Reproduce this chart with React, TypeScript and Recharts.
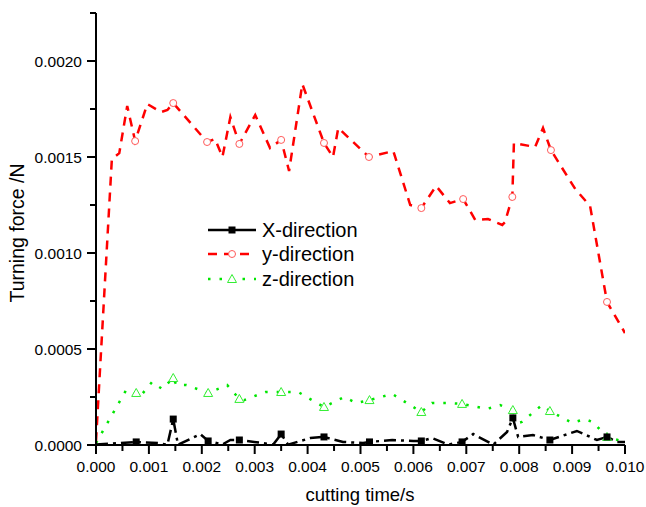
import type { JSX } from "react";
import { LineChart, Line, XAxis, YAxis, Customized } from "recharts";

type Pt = { t: number; v: number; mark?: boolean };

// cutting time (s) vs turning force (N)
const xDirection: Pt[] = [
  { t: 0, v: 0.000002 },
  { t: 0.00076, v: 0.000016, mark: true },
  { t: 0.00118, v: 0.00001 },
  { t: 0.00135, v: 0.000001 },
  { t: 0.00146, v: 0.000135, mark: true },
  { t: 0.00155, v: 0.000001 },
  { t: 0.00197, v: 0.000057 },
  { t: 0.00212, v: 0.000021, mark: true },
  { t: 0.00239, v: 0.000003 },
  { t: 0.00254, v: 0.000026 },
  { t: 0.00271, v: 0.000026, mark: true },
  { t: 0.00316, v: 0.00001 },
  { t: 0.00335, v: 0.000002 },
  { t: 0.0035, v: 0.000057, mark: true },
  { t: 0.00363, v: 0.000002 },
  { t: 0.00405, v: 0.000036 },
  { t: 0.00431, v: 0.000042, mark: true },
  { t: 0.00467, v: 0.000016 },
  { t: 0.00505, v: 0.00001 },
  { t: 0.00517, v: 0.000016, mark: true },
  { t: 0.0056, v: 0.000026 },
  { t: 0.006, v: 0.000021 },
  { t: 0.00615, v: 0.000021, mark: true },
  { t: 0.00635, v: 0.000036 },
  { t: 0.00666, v: 0.000002 },
  { t: 0.00692, v: 0.000016, mark: true },
  { t: 0.00713, v: 0.000057 },
  { t: 0.00751, v: 0.000002 },
  { t: 0.00777, v: 0.000068 },
  { t: 0.00788, v: 0.000141, mark: true },
  { t: 0.00798, v: 0.000042 },
  { t: 0.00826, v: 0.000052 },
  { t: 0.00858, v: 0.000026, mark: true },
  { t: 0.00909, v: 0.000073 },
  { t: 0.00947, v: 0.000026 },
  { t: 0.00966, v: 0.000042, mark: true },
  { t: 0.00985, v: 0.000016 },
  { t: 0.01, v: 0.000016 },
];

const yDirection: Pt[] = [
  { t: 0, v: 0.00002 },
  { t: 0.0003, v: 0.00149 },
  { t: 0.00044, v: 0.00152 },
  { t: 0.00059, v: 0.001766 },
  { t: 0.00074, v: 0.001583, mark: true },
  { t: 0.00097, v: 0.001776 },
  { t: 0.00123, v: 0.001734 },
  { t: 0.00135, v: 0.001745 },
  { t: 0.00146, v: 0.001781, mark: true },
  { t: 0.0021, v: 0.001578, mark: true },
  { t: 0.00225, v: 0.001594 },
  { t: 0.00239, v: 0.0015 },
  { t: 0.00254, v: 0.001708 },
  { t: 0.00271, v: 0.001568, mark: true },
  { t: 0.00301, v: 0.001719 },
  { t: 0.00329, v: 0.001547 },
  { t: 0.0035, v: 0.001589, mark: true },
  { t: 0.00365, v: 0.001427 },
  { t: 0.0039, v: 0.00188 },
  { t: 0.00431, v: 0.001573, mark: true },
  { t: 0.00448, v: 0.0015 },
  { t: 0.00458, v: 0.001651 },
  { t: 0.00516, v: 0.0015, mark: true },
  { t: 0.00562, v: 0.001531 },
  { t: 0.00594, v: 0.00125 },
  { t: 0.00615, v: 0.001234, mark: true },
  { t: 0.00643, v: 0.001349 },
  { t: 0.00669, v: 0.00126 },
  { t: 0.00694, v: 0.001281, mark: true },
  { t: 0.00717, v: 0.001172 },
  { t: 0.00741, v: 0.001177 },
  { t: 0.00768, v: 0.001146 },
  { t: 0.00773, v: 0.00116 },
  { t: 0.00787, v: 0.001292, mark: true },
  { t: 0.0079, v: 0.001573 },
  { t: 0.0083, v: 0.001552 },
  { t: 0.00845, v: 0.001651 },
  { t: 0.0086, v: 0.001536, mark: true },
  { t: 0.00906, v: 0.001333 },
  { t: 0.00934, v: 0.001245 },
  { t: 0.00966, v: 0.000745, mark: true },
  { t: 0.01, v: 0.000583 },
];

const zDirection: Pt[] = [
  { t: 0, v: 0.00001 },
  { t: 0.00057, v: 0.000286 },
  { t: 0.00076, v: 0.000271, mark: true },
  { t: 0.00084, v: 0.000255 },
  { t: 0.00106, v: 0.000328 },
  { t: 0.00125, v: 0.000292 },
  { t: 0.00146, v: 0.000349, mark: true },
  { t: 0.00152, v: 0.000312 },
  { t: 0.00171, v: 0.000312 },
  { t: 0.00212, v: 0.000271, mark: true },
  { t: 0.00248, v: 0.000312 },
  { t: 0.00271, v: 0.00024, mark: true },
  { t: 0.0028, v: 0.000234 },
  { t: 0.0032, v: 0.000276 },
  { t: 0.0035, v: 0.000276, mark: true },
  { t: 0.00382, v: 0.000276 },
  { t: 0.00431, v: 0.000198, mark: true },
  { t: 0.00469, v: 0.00025 },
  { t: 0.00492, v: 0.000219 },
  { t: 0.00517, v: 0.000234, mark: true },
  { t: 0.0056, v: 0.000266 },
  { t: 0.00615, v: 0.000172, mark: true },
  { t: 0.00635, v: 0.000219 },
  { t: 0.00664, v: 0.000219 },
  { t: 0.00692, v: 0.000214, mark: true },
  { t: 0.00739, v: 0.000188 },
  { t: 0.00764, v: 0.000208 },
  { t: 0.00788, v: 0.000182, mark: true },
  { t: 0.0079, v: 0.000109 },
  { t: 0.00805, v: 0.00012 },
  { t: 0.00843, v: 0.000208 },
  { t: 0.00858, v: 0.000177, mark: true },
  { t: 0.009, v: 0.000115 },
  { t: 0.00924, v: 0.000135 },
  { t: 0.00939, v: 0.00012 },
  { t: 0.00966, v: 0.000042, mark: true },
  { t: 0.01, v: 0.000016 },
];

const xTicks = [
  0, 0.0005, 0.001, 0.0015, 0.002, 0.0025, 0.003, 0.0035, 0.004, 0.0045,
  0.005, 0.0055, 0.006, 0.0065, 0.007, 0.0075, 0.008, 0.0085, 0.009, 0.0095,
  0.01,
];
const yTicks = [
  0, 0.00025, 0.0005, 0.00075, 0.001, 0.00125, 0.0015, 0.00175, 0.002,
  0.00225,
];

const seriesNames = ["X-direction", "y-direction", "z-direction"];

const FONT = "'Liberation Sans', Arial, sans-serif";

const square = (cx: number, cy: number, key?: string | number) => (
  <rect key={key} x={cx - 3.5} y={cy - 3.5} width={7} height={7} fill="#000" />
);
const circle = (cx: number, cy: number, key?: string | number) => (
  <circle key={key} cx={cx} cy={cy} r={3.5} fill="#fff" stroke="#ff5a5a" strokeWidth={1} />
);
const triangle = (cx: number, cy: number, key?: string | number) => (
  <path
    key={key}
    d={`M${cx},${cy - 4.5} L${cx + 4.5},${cy + 3.5} L${cx - 4.5},${cy + 3.5} Z`}
    fill="#fff"
    stroke="#33ee33"
    strokeWidth={1}
  />
);

const markerDot =
  (draw: (cx: number, cy: number, key?: string | number) => JSX.Element) =>
  (props: any) => {
    const { cx, cy, payload, index } = props;
    if (!payload?.mark) return <g key={`d-${index}`} />;
    return draw(cx, cy, `d-${index}`);
  };

const XTick = (props: any) => {
  const { x, y, payload } = props;
  const major = Math.round(payload.value / 0.0005) % 2 === 0;
  return (
    <g>
      <line x1={x} x2={x} y1={y} y2={y + (major ? 9 : 6)} stroke="#000" strokeWidth={2} />
      {major && (
        <text x={x} y={y + 27} textAnchor="middle" fontSize={15.5} fontFamily={FONT} fill="#000">
          {payload.value.toFixed(3)}
        </text>
      )}
    </g>
  );
};

const YTick = (props: any) => {
  const { x, y, payload } = props;
  const major = Math.round(payload.value / 0.00025) % 2 === 0;
  return (
    <g>
      <line x1={x - (major ? 9 : 6)} x2={x} y1={y} y2={y} stroke="#000" strokeWidth={2} />
      {major && (
        <text x={x - 14} y={y + 5.5} textAnchor="end" fontSize={15.5} fontFamily={FONT} fill="#000">
          {payload.value.toFixed(4)}
        </text>
      )}
    </g>
  );
};

// axis titles and the in-plot legend
const Decorations = () => {
  const rows = [
    { y: 230, stroke: "#000", dash: undefined, mark: square },
    { y: 254, stroke: "#ff0000", dash: "9 7", mark: circle },
    { y: 279, stroke: "#00e600", dash: "2.5 9", mark: triangle },
  ];
  return (
    <g fontFamily={FONT}>
      <text
        x={24}
        y={233}
        transform="rotate(-90 24 233)"
        textAnchor="middle"
        fontSize={19.5}
        fill="#000"
      >
        Turning force /N
      </text>
      <text x={360} y={501} textAnchor="middle" fontSize={18.5} fill="#000">
        cutting time/s
      </text>
      {rows.map((r, i) => (
        <g key={seriesNames[i]}>
          <line
            x1={208}
            x2={256}
            y1={r.y}
            y2={r.y}
            stroke={r.stroke}
            strokeWidth={2.5}
            strokeDasharray={r.dash}
          />
          {r.mark(232, r.y)}
          <text x={262} y={r.y + 7} fontSize={20} fill="#000">
            {seriesNames[i]}
          </text>
        </g>
      ))}
    </g>
  );
};

export default function App(): JSX.Element {
  return (
    <div style={{ position: "absolute", left: 0, top: 0, background: "#fff" }}>
      <LineChart
        width={646}
        height={507}
        margin={{ top: 13, right: 21, left: 0, bottom: 0 }}
        style={{ fontFamily: FONT }}
      >
        <XAxis
          type="number"
          dataKey="t"
          domain={[0, 0.01]}
          ticks={xTicks}
          interval={0}
          tickSize={0}
          tickMargin={0}
          tick={<XTick />}
          tickLine={false}
          height={62}
          axisLine={{ stroke: "#000", strokeWidth: 2 }}
          allowDataOverflow
        />
        <YAxis
          type="number"
          dataKey="v"
          domain={[0, 0.00225]}
          ticks={yTicks}
          interval={0}
          tickSize={0}
          tickMargin={0}
          tick={<YTick />}
          tickLine={false}
          width={96}
          axisLine={{ stroke: "#000", strokeWidth: 2 }}
          allowDataOverflow
        />
        <Line
          data={zDirection}
          dataKey="v"
          name={seriesNames[2]}
          stroke="#00e600"
          strokeWidth={2.5}
          strokeDasharray="2.5 9"
          dot={markerDot(triangle)}
          activeDot={false}
          isAnimationActive={false}
        />
        <Line
          data={xDirection}
          dataKey="v"
          name={seriesNames[0]}
          stroke="#000"
          strokeWidth={2.5}
          strokeDasharray="12 5 3 5"
          dot={markerDot(square)}
          activeDot={false}
          isAnimationActive={false}
        />
        <Line
          data={yDirection}
          dataKey="v"
          name={seriesNames[1]}
          stroke="#ff0000"
          strokeWidth={2.5}
          strokeDasharray="9 7"
          dot={markerDot(circle)}
          activeDot={false}
          isAnimationActive={false}
        />
        <Customized component={<Decorations />} />
      </LineChart>
    </div>
  );
}
